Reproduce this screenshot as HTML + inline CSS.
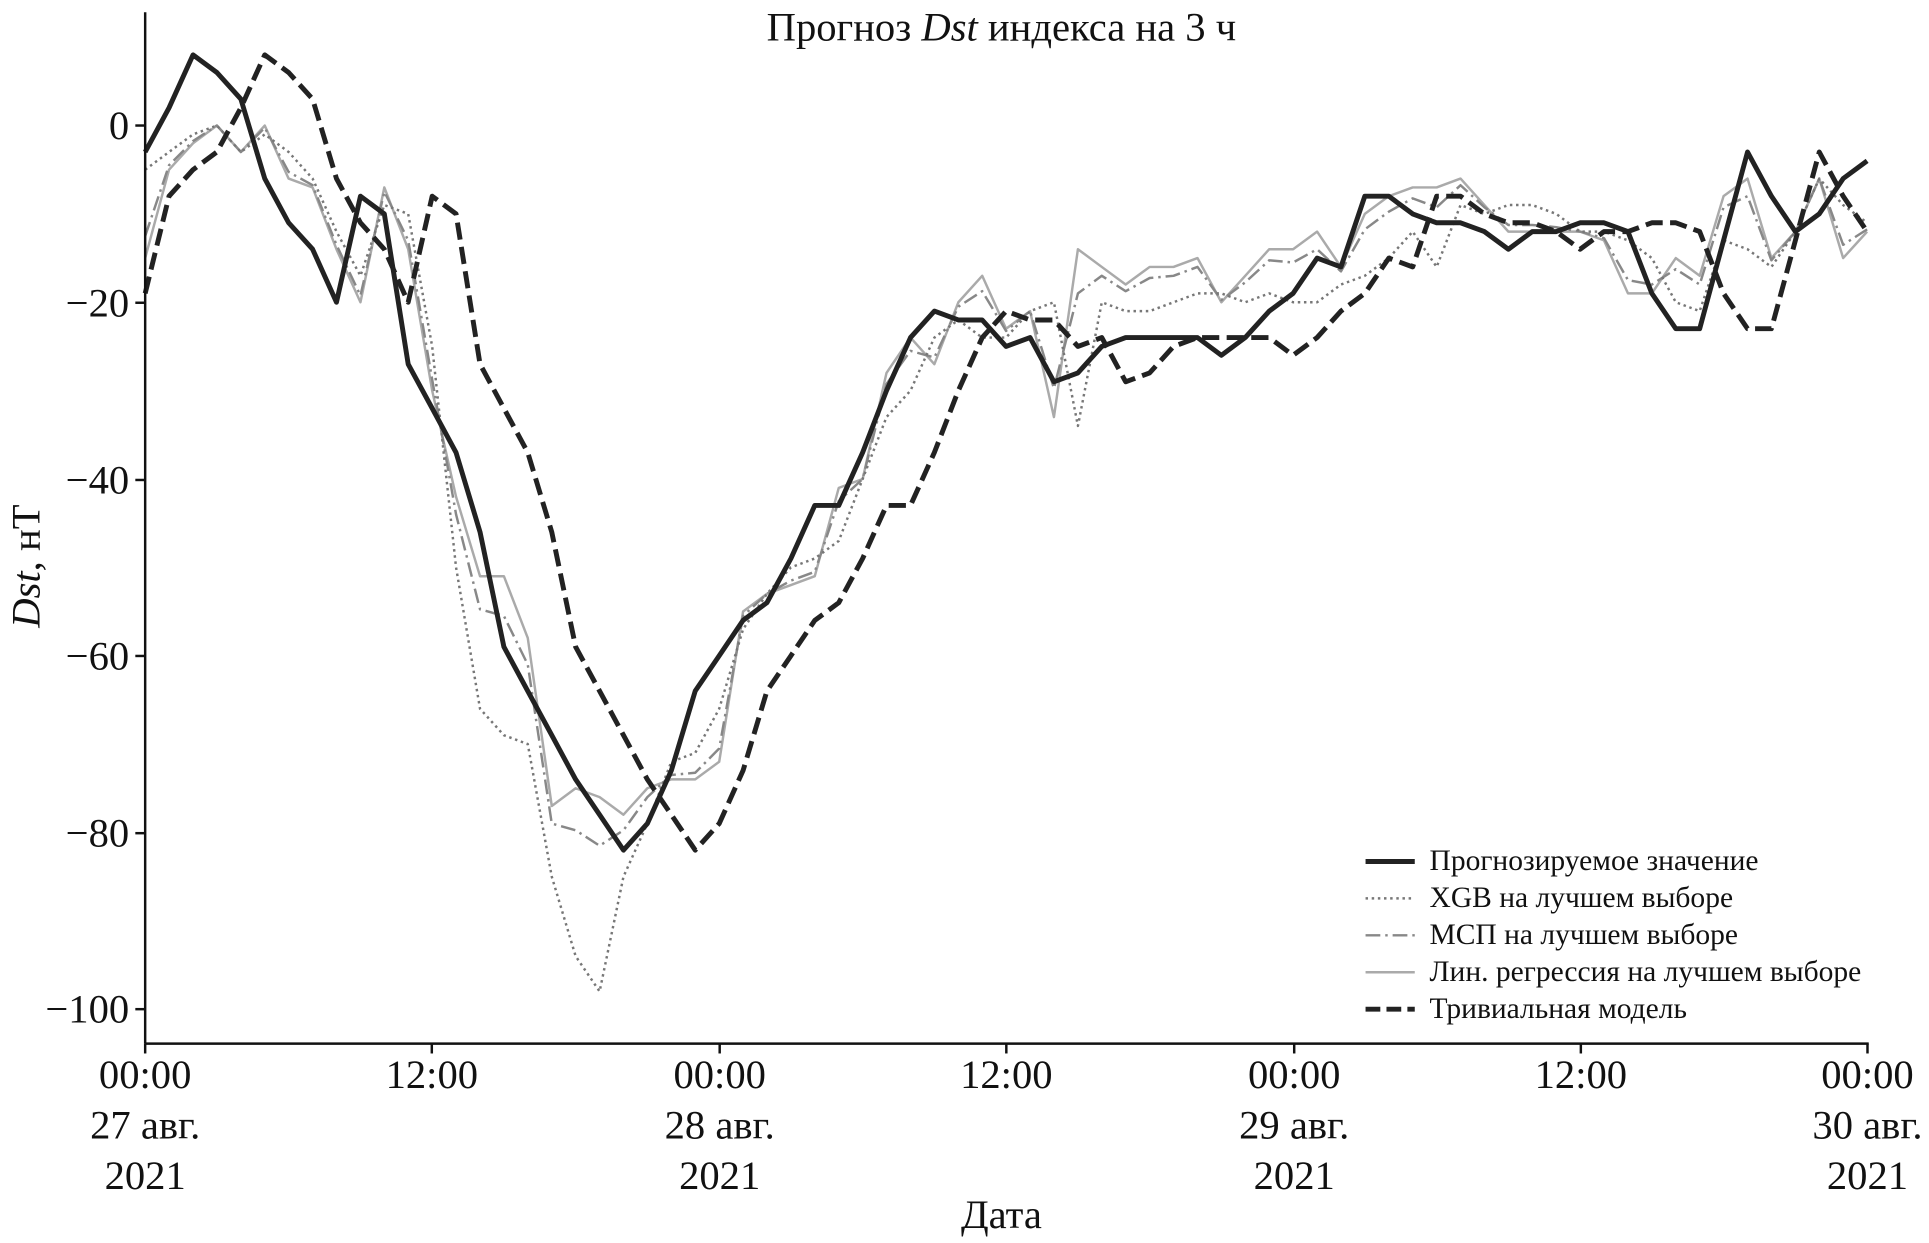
<!DOCTYPE html>
<html><head><meta charset="utf-8"><style>
html,body{margin:0;padding:0;background:#fff;}
svg{display:block;}
text{font-family:"Liberation Serif",serif;fill:#111;}
</style></head><body>
<svg id="s" width="1929" height="1243" viewBox="0 0 1568 1010" preserveAspectRatio="none" xmlns="http://www.w3.org/2000/svg">
<rect width="1568" height="1010" fill="#fff"/>
<g id="series" fill="none" stroke-linejoin="round"></g>
<line x1="118" y1="10" x2="118" y2="848" stroke="#111" stroke-width="2"/>
<line x1="118" y1="848" x2="1519" y2="848" stroke="#111" stroke-width="2"/>
<g stroke="#111" stroke-width="2">
<line x1="110" y1="102" x2="118" y2="102"/><line x1="110" y1="246" x2="118" y2="246"/><line x1="110" y1="390" x2="118" y2="390"/><line x1="110" y1="533" x2="118" y2="533"/><line x1="110" y1="677" x2="118" y2="677"/><line x1="110" y1="820" x2="118" y2="820"/>
<line x1="118" y1="848" x2="118" y2="856"/><line x1="351" y1="848" x2="351" y2="856"/><line x1="585" y1="848" x2="585" y2="856"/><line x1="818" y1="848" x2="818" y2="856"/><line x1="1052" y1="848" x2="1052" y2="856"/><line x1="1285" y1="848" x2="1285" y2="856"/><line x1="1518" y1="848" x2="1518" y2="856"/>
</g>
<g font-size="33" text-anchor="end">
<text x="105" y="113">0</text><text x="105" y="257">−20</text><text x="105" y="401">−40</text><text x="105" y="544">−60</text><text x="105" y="688">−80</text><text x="105" y="831">−100</text>
</g>
<g font-size="33" text-anchor="middle">
<text x="118" y="884">00:00</text><text x="118" y="925">27 авг.</text><text x="118" y="966">2021</text>
<text x="351" y="884">12:00</text>
<text x="585" y="884">00:00</text><text x="585" y="925">28 авг.</text><text x="585" y="966">2021</text>
<text x="818" y="884">12:00</text>
<text x="1052" y="884">00:00</text><text x="1052" y="925">29 авг.</text><text x="1052" y="966">2021</text>
<text x="1285" y="884">12:00</text>
<text x="1518" y="884">00:00</text><text x="1518" y="925">30 авг.</text><text x="1518" y="966">2021</text>
<text x="814" y="998">Дата</text>
<text x="814" y="33" font-size="33">Прогноз <tspan font-style="italic">Dst</tspan> индекса на 3 ч</text>
</g>
<text transform="translate(32,460) rotate(-90)" font-size="33" text-anchor="middle"><tspan font-style="italic">Dst</tspan>, нТ</text>
<g font-size="24">
<line x1="1110" y1="700" x2="1150" y2="700" stroke="#222" stroke-width="4"/><text x="1162" y="707">Прогнозируемое значение</text>
<line x1="1110" y1="730" x2="1150" y2="730" stroke="#777" stroke-width="2" stroke-dasharray="2,3"/><text x="1162" y="737">XGB на лучшем выборе</text>
<line x1="1110" y1="760" x2="1150" y2="760" stroke="#888" stroke-width="2" stroke-dasharray="12,4,2,4"/><text x="1162" y="767">МСП на лучшем выборе</text>
<line x1="1110" y1="790" x2="1150" y2="790" stroke="#aaa" stroke-width="2"/><text x="1162" y="797">Лин. регрессия на лучшем выборе</text>
<line x1="1110" y1="820" x2="1150" y2="820" stroke="#222" stroke-width="4" stroke-dasharray="12,5"/><text x="1162" y="827">Тривиальная модель</text>
</g>
<script>
var B=[-3,2,8,6,3,-6,-11,-14,-20,-8,-10,-27,-32,-37,-46,-59,-64,-69,-74,-78,-82,-79,-73,-64,-60,-56,-54,-49,-43,-43,-37,-30,-24,-21,-22,-22,-25,-24,-29,-28,-25,-24,-24,-24,-24,-26,-24,-21,-19,-15,-16,-8,-8,-10,-11,-11,-12,-14,-12,-12,-11,-11,-12,-19,-23,-23,-13,-3,-8,-12,-10,-6,-4];
var T=[-19,-8,-5].concat(B.slice(0,70));
var X=[-5,-3,-1,0,-3,-1,-3,-6,-12,-17,-9,-10,-25,-50,-66,-69,-70,-85,-94,-98,-85,-79,-72,-71,-66,-57,-53,-50,-49,-47,-40,-33,-30,-24,-22,-24,-24,-20,-34,-20,-21,-21,-20,-19,-19,-20,-19,-20,-20,-18,-17,-15,-12,-16,-9,-10,-9,-9,-10,-11,-12,-12,-13,-15,-20,-21,-13,-14,-16,-12,-6,-9,-11];
var L=[-15,-5,-2,0,-3,0,-6,-7,-14,-20,-7,-14,-30,-42,-51,-51,-58,-77,-75,-76,-78,-75,-74,-74,-72,-55,-53,-52,-51,-41,-40,-28,-24,-27,-20,-17,-23,-33,-14,-16,-18,-16,-16,-15,-20,-17,-14,-14,-12,-16,-10,-8,-7,-7,-6,-9,-12,-12,-12,-11,-12,-13,-19,-19,-15,-17,-8,-6,-15,-12,-6,-15,-12];
L.splice(37,0,-21); L.splice(60,1);
X.splice(37,0,-21); X.splice(60,1);
var M=L.map(function(v,i){var x=X[i]===undefined?v:X[i];return v*0.75+x*0.25;});
function p(a,off){return a.map(function(v,i){return (i?'L':'M')+(118+(i+(off||0))*19.44).toFixed(1)+','+(102-v*7.18).toFixed(1);}).join('');}
var g=document.getElementById('series');
function add(a,st,w,da,off){var e=document.createElementNS('http://www.w3.org/2000/svg','path');e.setAttribute('d',p(a,off));e.setAttribute('stroke',st);e.setAttribute('stroke-width',w);if(da)e.setAttribute('stroke-dasharray',da);g.appendChild(e);}
add(L,'#aaa',2);
add(M,'#888',2,'12,4,2,4');
add(X,'#777',2,'2,3');
add(T,'#222',4,'14,6');
add(B,'#222',4);
</script>
</svg>
</body></html>
